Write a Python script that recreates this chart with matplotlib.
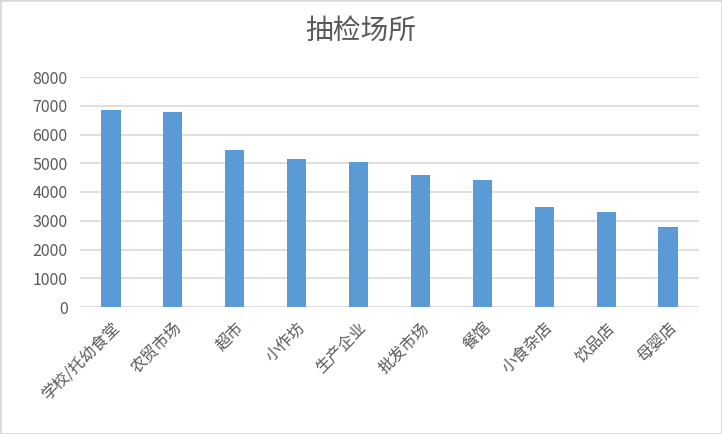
import matplotlib
matplotlib.use("Agg")
import matplotlib.pyplot as plt
from matplotlib.patches import Rectangle

plt.rcParams['font.family'] = ['Noto Sans CJK SC', 'DejaVu Sans']

categories = ["学校/托幼食堂", "农贸市场", "超市", "小作坊", "生产企业",
              "批发市场", "餐馆", "小食杂店", "饮品店", "母婴店"]
values = [6860, 6790, 5460, 5150, 5050, 4590, 4420, 3480, 3300, 2780]
yticks = [0, 1000, 2000, 3000, 4000, 5000, 6000, 7000, 8000]
title = "抽检场所"

fig = plt.figure(figsize=(7.22, 4.34), dpi=100)
ax = fig.add_axes([80/722, 1-307/434, 619/722, 230/434])

x = list(range(len(categories)))
ax.bar(x, values, width=0.31, color="#5b9bd5", zorder=3)
ax.set_xlim(-0.5, len(categories)-0.5)
ax.set_ylim(0, 8000)
ax.set_yticks(yticks)
ax.set_yticklabels([str(v) for v in yticks], fontsize=11.5, color="#595959")
ax.set_xticks(x)
ax.set_xticklabels(categories, rotation=45, ha="right", rotation_mode="anchor",
                   fontsize=11.5, color="#595959")
ax.tick_params(axis="both", length=0)
ax.tick_params(axis="y", pad=9)
ax.tick_params(axis="x", pad=9)
ax.grid(axis="y", color="#d9d9d9", linewidth=1.2, zorder=0)
for s in ax.spines.values():
    s.set_visible(False)

fig.text(361/722, 1-31/434, title, ha="center", va="center", fontsize=20, color="#595959")
fig.patches.append(Rectangle((0, 0), 1, 1, transform=fig.transFigure, fill=False,
                             edgecolor="#d9d9d9", linewidth=2))

fig.savefig("out.png", dpi=100)
